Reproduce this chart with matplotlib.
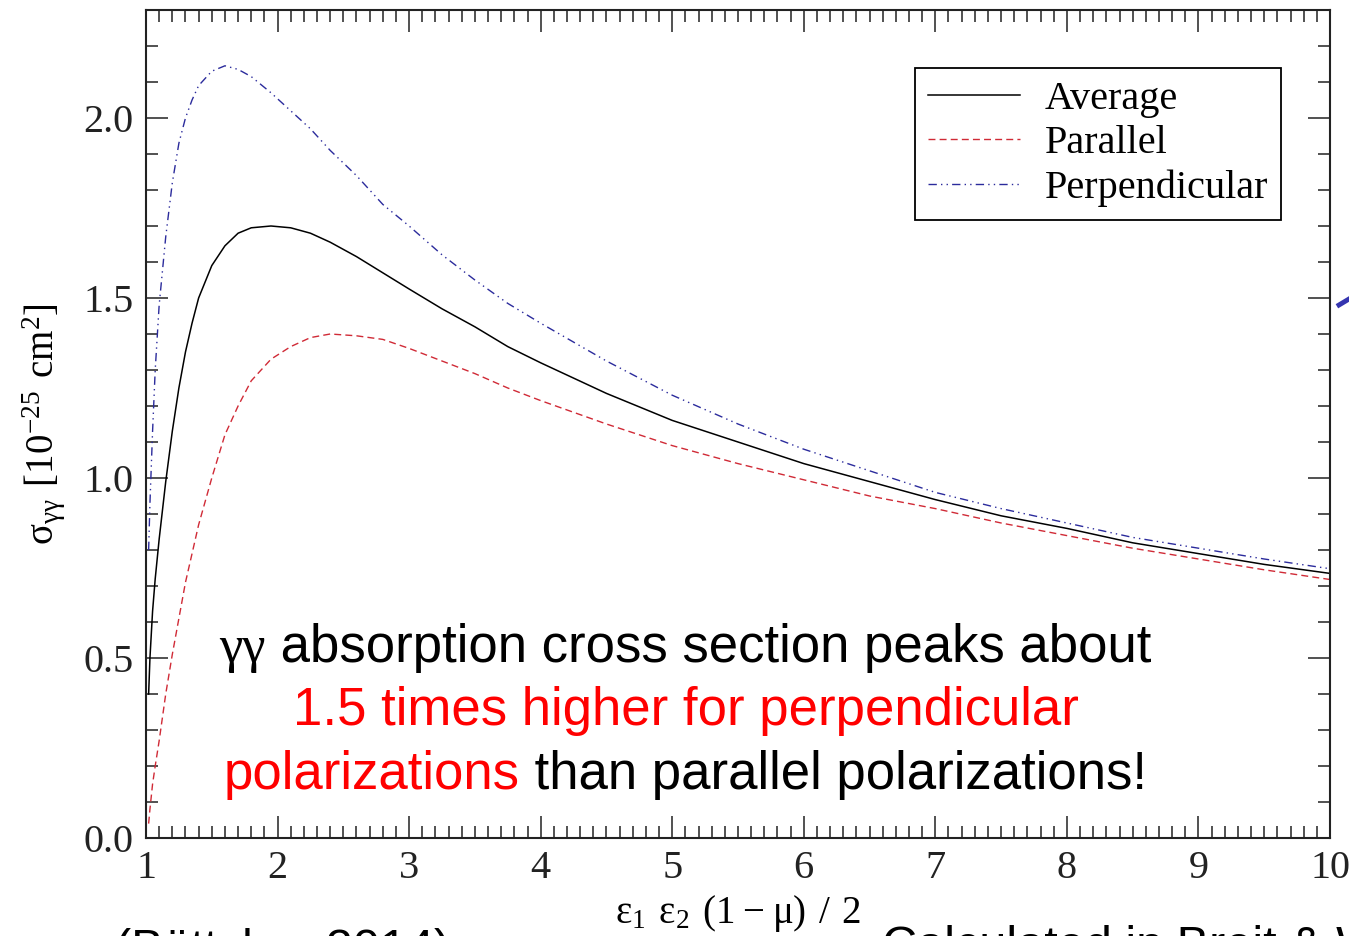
import matplotlib
matplotlib.use("Agg")
import matplotlib.pyplot as plt
from matplotlib.lines import Line2D
from matplotlib.ticker import MultipleLocator

# gamma-gamma pair production cross section vs. s = e1 e2 (1 - mu) / 2
s_vals = [1.02, 1.03, 1.05, 1.07, 1.10, 1.15, 1.20, 1.25, 1.30, 1.35, 1.40,
          1.50, 1.60, 1.70, 1.80, 1.95, 2.10, 2.25, 2.40, 2.60, 2.80, 3.00,
          3.25, 3.50, 3.75, 4.00, 4.50, 5.00, 5.50, 6.00, 6.50, 7.00, 7.50,
          8.00, 8.50, 9.00, 9.50, 10.0]
sigma_avg = [0.40, 0.50, 0.63, 0.72, 0.83, 0.99, 1.13, 1.25, 1.35, 1.43, 1.50,
             1.59, 1.645, 1.68, 1.695, 1.70, 1.695, 1.68, 1.655, 1.615, 1.57, 1.525,
             1.47, 1.42, 1.365, 1.32, 1.235, 1.16, 1.10, 1.04, 0.99, 0.94, 0.895,
             0.86, 0.82, 0.79, 0.76, 0.735]
sigma_par = [0.04, 0.08, 0.15, 0.20, 0.27, 0.40, 0.51, 0.61, 0.71, 0.79, 0.87,
             1.00, 1.12, 1.20, 1.27, 1.33, 1.365, 1.39, 1.40, 1.395, 1.385, 1.36,
             1.325, 1.29, 1.25, 1.215, 1.15, 1.09, 1.04, 0.995, 0.95, 0.915, 0.875,
             0.84, 0.805, 0.775, 0.745, 0.718]
sigma_perp = [0.80, 0.93, 1.13, 1.30, 1.48, 1.67, 1.82, 1.93, 2.00, 2.05, 2.09,
              2.13, 2.145, 2.135, 2.115, 2.07, 2.02, 1.97, 1.91, 1.84, 1.76, 1.70,
              1.62, 1.55, 1.485, 1.43, 1.325, 1.23, 1.15, 1.08, 1.02, 0.96, 0.915,
              0.875, 0.835, 0.805, 0.775, 0.748]

plt.rcParams['font.family'] = ['Liberation Serif', 'DejaVu Serif']
plt.rcParams['mathtext.fontset'] = 'custom'
plt.rcParams['mathtext.rm'] = 'Liberation Serif'

W, H = 1349, 936
fig = plt.figure(figsize=(W / 100, H / 100), dpi=100)
ax = fig.add_axes([146 / W, 1 - 838 / H, (1330 - 146) / W, (838 - 10) / H])

ax.plot(s_vals, sigma_avg, color='black', lw=1.1, label='Average')
ax.plot(s_vals, sigma_par, color='#d02a36', lw=1.0, dashes=(5, 3), label='Parallel')
ax.plot(s_vals, sigma_perp, color='#2b2b9c', lw=1.0,
        dashes=(6, 3, 1, 3, 1, 3), label='Perpendicular')

ax.set_xlim(1, 10)
ax.set_ylim(0, 2.3)
ax.xaxis.set_major_locator(MultipleLocator(1))
ax.xaxis.set_minor_locator(MultipleLocator(0.1))
ax.yaxis.set_major_locator(MultipleLocator(0.5))
ax.yaxis.set_minor_locator(MultipleLocator(0.1))
ax.tick_params(which='both', direction='in', top=True, right=True,
               width=1.1, labelsize=29, colors='#222222')
ax.tick_params(which='major', length=16, pad=9)
ax.tick_params(which='minor', length=8.5)
for sp in ax.spines.values():
    sp.set_linewidth(1.5)
    sp.set_color('#222222')
ax.xaxis.set_major_formatter(plt.FuncFormatter(lambda v, p: '%d' % round(v)))
ax.yaxis.set_major_formatter(plt.FuncFormatter(lambda v, p: '%.1f' % v))

ax.set_xlabel(r'$\mathregular{ε_1\ ε_2\ (1 - μ)\ /\ 2}$', fontsize=28, labelpad=4)
ax.set_ylabel(r'$\mathregular{σ_{γγ}\ [10^{-25}\ cm^2]}$', fontsize=28, labelpad=12)

leg = ax.legend(loc='upper right', bbox_to_anchor=(0.9586, 0.930), borderaxespad=0,
                fontsize=29, fancybox=False, framealpha=1, edgecolor='black',
                handlelength=2.3, handletextpad=0.6, labelspacing=0.18,
                borderpad=0.32)
leg.get_frame().set_linewidth(1.3)

# slide annotation, centred lines built from coloured pieces
def centred_line(cx, base, parts, size=38):
    texts = []
    for s, c, fam in parts:
        texts.append(fig.text(0, 1 - base / H, s, color=c, fontsize=size,
                              family=fam, va='baseline', ha='left'))
    fig.canvas.draw()
    r = fig.canvas.get_renderer()
    widths = [t.get_window_extent(r).width for t in texts]
    x0 = cx - sum(widths) / 2
    for t, w in zip(texts, widths):
        t.set_x(x0 / W)
        x0 += w

sans = ['Liberation Sans', 'DejaVu Sans']
serif = ['Liberation Serif', 'DejaVu Serif']
red = '#ff0000'
centred_line(685, 662, [('γγ', 'black', serif),
                        (' absorption cross section peaks about', 'black', sans)])
centred_line(686, 725, [('1.5 times higher for perpendicular', red, sans)])
centred_line(685, 789, [('polarizations', red, sans),
                        (' than parallel polarizations!', 'black', sans)])

# slide footer text, runs off the bottom edge
fig.text(115 / W, 1 - 963 / H, '(Böttcher 2014)', fontsize=35, family=sans,
         va='baseline', color='black')
fig.text(882 / W, 1 - 960 / H, 'Calculated in Breit & Wheeler (1934)', fontsize=35,
         family=sans, va='baseline', color='black')

# edge of a slide arrow
fig.add_artist(Line2D([1339 / W, 1349 / W], [1 - 305 / H, 1 - 299 / H],
                      color='#3535b0', lw=3.5, transform=fig.transFigure))

fig.savefig('out.png', dpi=100)
